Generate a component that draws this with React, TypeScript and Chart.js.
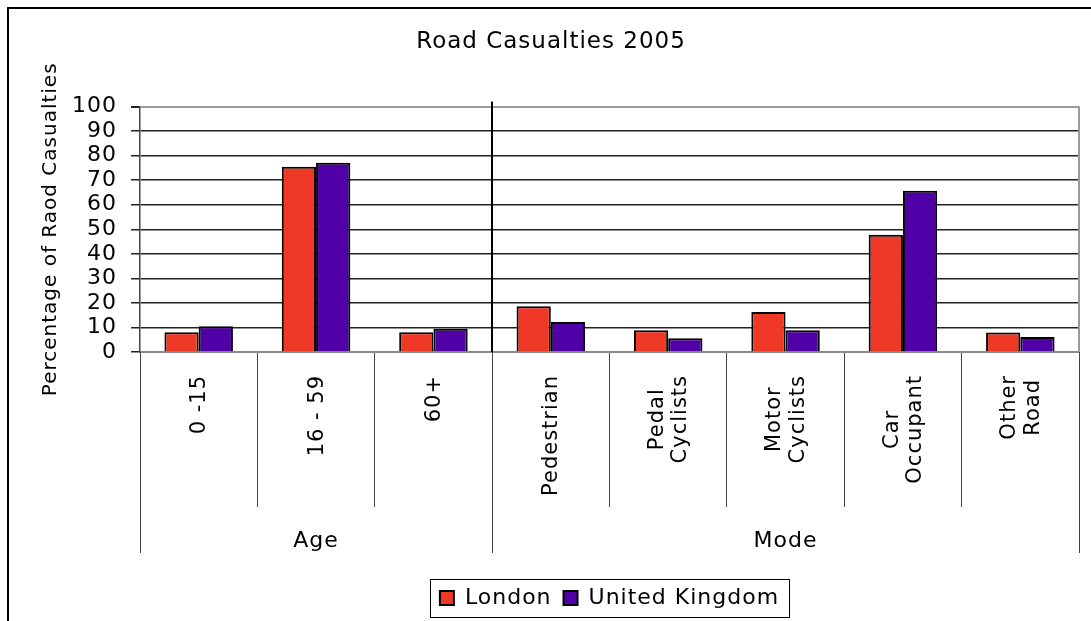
import React, { useEffect, useRef } from 'react';
import { Chart, registerables } from 'chart.js';

Chart.register(...registerables);

const FONT = 'DejaVu Sans';

const chartTitle = 'Road Casualties 2005';
const yAxisTitle = 'Percentage of Raod Casualties';
const categoryLabels: string[][] = [
  ['0 -15'],
  ['16 - 59'],
  ['60+'],
  ['Pedestrian'],
  ['Pedal', 'Cyclists'],
  ['Motor', 'Cyclists'],
  ['Car', 'Occupant'],
  ['Other', 'Road'],
];
const groupLabels = ['Age', 'Mode'];
const groupSizes = [3, 5];
const seriesNames = ['London', 'United Kingdom'];
const londonValues = [8, 75.5, 8, 18.6, 8.9, 16.3, 47.8, 7.9];
const ukValues = [10.5, 77.1, 9.5, 12.2, 5.6, 8.9, 65.7, 6.1];
const yMin = 0;
const yMax = 100;
const yStep = 10;

const LONDON_COLOR = '#EF3826';
const UK_COLOR = '#5000A6';

function setSpacing(ctx: any, v: string) {
  if (ctx && 'letterSpacing' in ctx) ctx.letterSpacing = v;
}

const decorPlugin = {
  id: 'decor',
  beforeUpdate(chart: any) {
    setSpacing(chart.ctx, '1px');
  },
  beforeDraw(chart: any) {
    setSpacing(chart.ctx, '1px');
  },
  afterDraw(chart: any) {
    const ctx = chart.ctx as CanvasRenderingContext2D;
    const x = chart.scales.x;
    const area = chart.chartArea;
    const n = categoryLabels.length;
    const step = x.getPixelForValue(1) - x.getPixelForValue(0);
    const boundary = (i: number) => x.getPixelForValue(i) - step / 2;

    ctx.save();
    // outer frame
    ctx.strokeStyle = '#000';
    ctx.lineWidth = 2;
    ctx.strokeRect(8, 8, chart.width + 20, chart.height + 20);

    // plot area right border
    ctx.strokeStyle = '#9a9a9a';
    ctx.lineWidth = 2;
    ctx.beginPath();
    ctx.moveTo(area.right, area.top);
    ctx.lineTo(area.right, area.bottom);
    ctx.stroke();

    // group boundary lines
    const groupBounds: number[] = [0];
    let acc = 0;
    groupSizes.forEach((s) => {
      acc += s;
      groupBounds.push(acc);
    });
    ctx.strokeStyle = '#444';
    ctx.lineWidth = 1;
    groupBounds.forEach((gi) => {
      const bx = Math.round(gi >= n ? boundary(n - 1) + step : boundary(gi)) + 0.5;
      ctx.beginPath();
      ctx.moveTo(bx, area.bottom);
      ctx.lineTo(bx, area.bottom + 201);
      ctx.stroke();
    });

    // separator through plot area
    ctx.strokeStyle = '#000';
    ctx.lineWidth = 2;
    for (let g = 1; g < groupBounds.length - 1; g++) {
      const bx = Math.round(boundary(groupBounds[g]));
      ctx.beginPath();
      ctx.moveTo(bx, area.top - 5);
      ctx.lineTo(bx, area.bottom);
      ctx.stroke();
    }

    // category labels (rotated)
    ctx.fillStyle = '#000';
    ctx.font = `21px "${FONT}"`;
    setSpacing(ctx, '1px');
    ctx.textAlign = 'center';
    ctx.textBaseline = 'middle';
    const labelTop = area.bottom + 23;
    categoryLabels.forEach((lines, i) => {
      const cx = x.getPixelForValue(i) + 1;
      const maxW = Math.max(...lines.map((l) => ctx.measureText(l).width));
      const cy = labelTop + maxW / 2;
      lines.forEach((line, j) => {
        const lx = cx + (j - (lines.length - 1) / 2) * 23.5;
        ctx.save();
        ctx.translate(lx, cy);
        ctx.rotate(-Math.PI / 2);
        ctx.fillText(line, 0, 0);
        ctx.restore();
      });
    });

    // group labels
    ctx.font = `22px "${FONT}"`;
    groupLabels.forEach((g, gi) => {
      const a = boundary(groupBounds[gi]);
      const bIdx = groupBounds[gi + 1];
      const b = bIdx >= n ? boundary(n - 1) + step : boundary(bIdx);
      ctx.fillText(g, (a + b) / 2, area.bottom + 189);
    });

    // legend border
    const boxes = chart.legend && chart.legend.legendHitBoxes;
    if (boxes && boxes.length) {
      let l = Infinity;
      let r = -Infinity;
      boxes.forEach((b: any) => {
        l = Math.min(l, b.left);
        r = Math.max(r, b.left + b.width);
      });
      const cyL = boxes[0].top + boxes[0].height / 2;
      ctx.strokeStyle = '#000';
      ctx.lineWidth = 1;
      ctx.strokeRect(Math.round(l - 10) + 0.5, Math.round(cyL - 19) + 0.5, Math.round(r - l + 20), 38);
    }
    ctx.restore();
  },
};

export default function App() {
  const ref = useRef<HTMLCanvasElement | null>(null);

  useEffect(() => {
    document.body.style.margin = '0';
    const canvas = ref.current;
    if (!canvas) return;
    const chart = new Chart(canvas, {
      type: 'bar',
      data: {
        labels: categoryLabels.map((l) => l.join(' ')),
        datasets: [
          {
            label: seriesNames[0],
            data: londonValues,
            backgroundColor: LONDON_COLOR,
            borderColor: '#000',
            borderWidth: 2,
            categoryPercentage: 0.5836,
            barPercentage: 1,
          },
          {
            label: seriesNames[1],
            data: ukValues,
            backgroundColor: UK_COLOR,
            borderColor: '#000',
            borderWidth: 2,
            categoryPercentage: 0.5836,
            barPercentage: 1,
          },
        ],
      },
      options: {
        responsive: false,
        animation: false,
        devicePixelRatio: 1,
        layout: { padding: { left: 23, right: 12, top: 0, bottom: 2 } },
        plugins: {
          title: {
            display: true,
            text: chartTitle,
            color: '#000',
            font: { family: FONT, size: 23, weight: 'normal' },
            padding: { top: 28, bottom: 51 },
          },
          legend: {
            position: 'bottom',
            fullSize: false,
            labels: {
              boxWidth: 14,
              boxHeight: 14,
              padding: 12,
              color: '#000',
              font: { family: FONT, size: 22 },
            },
          },
          tooltip: { enabled: false },
        },
        scales: {
          x: {
            offset: true,
            grid: {
              display: true,
              offset: true,
              drawOnChartArea: false,
              drawTicks: true,
              tickLength: 155,
              color: '#444',
              tickColor: '#444',
              lineWidth: 1,
            },
            border: { display: true, color: '#8a8a8a', width: 2 },
            ticks: { display: false },
            afterFit: (s: any) => {
              s.height = 223;
            },
          },
          y: {
            min: yMin,
            max: yMax,
            ticks: {
              stepSize: yStep,
              autoSkip: false,
              color: '#000',
              padding: 14,
              font: { family: FONT, size: 22, lineHeight: 1 },
            },
            grid: {
              color: (c: any) => (c.tick && c.tick.value === yMax ? '#9a9a9a' : '#222'),
              lineWidth: (c: any) => (c.tick && c.tick.value === yMax ? 2 : 1.5),
              drawTicks: true,
              tickLength: 9,
              tickColor: '#222',
            },
            border: { display: true, color: '#444', width: 1.5 },
            title: {
              display: true,
              text: yAxisTitle,
              color: '#000',
              font: { family: FONT, size: 20 },
              padding: { top: 16, bottom: 0 },
            },
            afterFit: (s: any) => {
              s.width = 117;
            },
          },
        },
      } as any,
      plugins: [decorPlugin],
    });
    return () => chart.destroy();
  }, []);

  return <canvas ref={ref} width={1091} height={621} style={{ display: 'block' }} />;
}
